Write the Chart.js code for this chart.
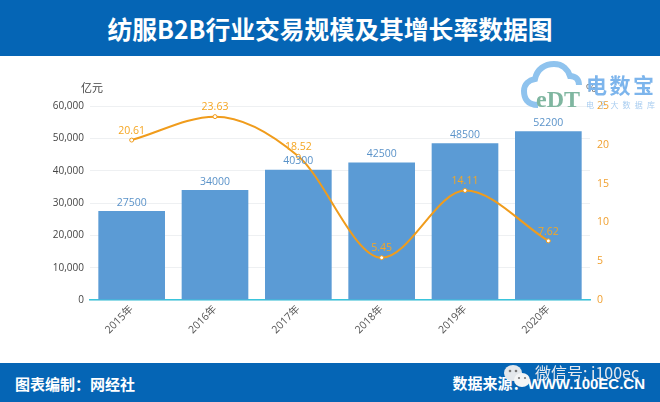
<!DOCTYPE html>
<html lang="zh"><head><meta charset="utf-8">
<script src="https://cdn.jsdelivr.net/npm/chart.js@4"></script>
<style>
html,body{margin:0;padding:0;background:#fff}
#wrap{position:relative;width:660px;height:402px;overflow:hidden;font-family:"Noto Sans CJK SC",sans-serif}
#chart{position:absolute;left:0;top:0;width:660px;height:402px}
.abs{position:absolute;white-space:nowrap}
#head{left:0;top:0;width:660px;height:56px;background:#0565b5;color:#fff;font-size:24.8px;font-weight:700;line-height:56px;text-align:center}
#foot{left:0;top:363px;width:660px;height:39px;background:#0565b5}
</style></head><body>
<div id="wrap">
<canvas id="chart" width="660" height="402"></canvas>
<div class="abs" id="head">纺服B2B行业交易规模及其增长率数据图</div>
<div class="abs" id="foot"></div>
<div class="abs" style="left:15px;top:374px;color:#fff;font-size:15px;font-weight:700;line-height:20px">图表编制：网经社</div>
<div class="abs" style="right:15px;top:374px;color:#fff;font-size:15px;font-weight:700;line-height:20px;font-family:'Liberation Sans','Noto Sans CJK SC',sans-serif">数据来源：WWW.100EC.CN</div>
<div class="abs" style="left:81px;top:79px;color:#444;font-size:11px;line-height:16px">亿元</div>
<div class="abs" style="left:586px;top:79px;color:#666;font-size:11px;line-height:16px">%</div>
<svg class="abs" style="left:520px;top:60px" width="64" height="50" viewBox="0 0 64 50">
<path d="M18 45 C7 45 4 38 4 31 C4 24 9 20 15 19 C17 9 25 4 34 4 C43 4 48 10 50 16 C56 16 59 20 59 25" fill="none" stroke="#8fc3ee" stroke-width="6"/>
<text x="16" y="47" font-family="Liberation Serif,serif" font-size="23" font-weight="700" fill="#7fb6a0" textLength="44" lengthAdjust="spacingAndGlyphs">eDT</text>
</svg>
<div class="abs" style="left:586px;top:70px;color:#7db5ec;font-size:21px;font-weight:700;letter-spacing:2.5px;line-height:28px">电数宝</div>
<div class="abs" style="left:586px;top:99px;color:#a9cdf0;font-size:8px;letter-spacing:4.2px;line-height:12px">电子大数据库</div>
<svg class="abs" style="left:503px;top:364px" width="30" height="28" viewBox="0 0 30 28">
<ellipse cx="10" cy="9" rx="9" ry="8" fill="#e4e8ec"/>
<ellipse cx="19" cy="16" rx="8" ry="7" fill="#f4f5f6"/>
<circle cx="7" cy="7" r="1.3" fill="#777"/><circle cx="13" cy="7" r="1.3" fill="#777"/>
<circle cx="16" cy="14" r="1.1" fill="#777"/><circle cx="22" cy="14" r="1.1" fill="#777"/>
</svg>
<div class="abs" style="left:535px;top:362px;color:#e6e9ee;font-size:16px;line-height:20px">微信号: i100ec</div>
</div>
<script>
const categories = ['2015年','2016年','2017年','2018年','2019年','2020年'];
const scaleValues = [27500,34000,40300,42500,48500,52200];
const growthRates = [20.61,23.63,18.52,5.45,14.11,7.62];

const valueLabels = {
  id:'valueLabels',
  afterDatasetsDraw(c){
    const g=c.ctx;
    g.save();
    g.textAlign='center';g.textBaseline='bottom';
    g.font='10.5px "Open Sans","Noto Sans",sans-serif';
    c.data.datasets.forEach((d,i)=>{
      g.fillStyle=d.type==='line'?'#f5a623':'#5b93c9';
      c.getDatasetMeta(i).data.forEach((el,j)=>{
        const txt=d.type==='line'?d.data[j].toFixed(2):String(d.data[j]);
        g.fillText(txt,el.x,el.y-(d.type==='line'?4:3));
      });
    });
    g.restore();
  }
};
Chart.defaults.font.family='"Open Sans","Noto Sans CJK SC",sans-serif';
new Chart(document.getElementById('chart'),{
  type:'bar',
  data:{labels:categories,datasets:[
    {type:'line',data:growthRates,yAxisID:'y1',borderColor:'#f09c1c',borderWidth:2,cubicInterpolationMode:'monotone',
     pointRadius:2,pointBackgroundColor:'#fff',pointBorderColor:'#f09c1c',pointBorderWidth:1,order:1},
    {type:'bar',data:scaleValues,yAxisID:'y',backgroundColor:'#5b9bd5',barPercentage:0.8,categoryPercentage:1,order:2}
  ]},
  options:{
    responsive:false,animation:false,devicePixelRatio:1,
    layout:{padding:{top:106,left:0,right:0,bottom:0}},
    plugins:{legend:{display:false},tooltip:{enabled:false}},
    scales:{
      x:{grid:{display:false,drawTicks:false},border:{color:'#39c5dc',width:1.5},
         ticks:{color:'#555',font:{size:10.5},maxRotation:45,minRotation:45,padding:3},
         afterFit(s){s.height=102}},
      y:{position:'left',min:0,max:60000,
         ticks:{stepSize:10000,color:'#444',font:{size:10},padding:6,callback:v=>v.toLocaleString('en-US')},
         grid:{color:'#eef0f2',drawTicks:false},border:{display:false},
         afterFit(s){s.width=90}},
      y1:{position:'right',min:0,max:25,
         ticks:{stepSize:5,color:'#f0a030',font:{size:10.5},padding:7},
         grid:{display:false,drawTicks:false},border:{display:false},
         afterFit(s){s.width=70}}
    }
  },
  plugins:[valueLabels]
});
</script>
</body></html>
